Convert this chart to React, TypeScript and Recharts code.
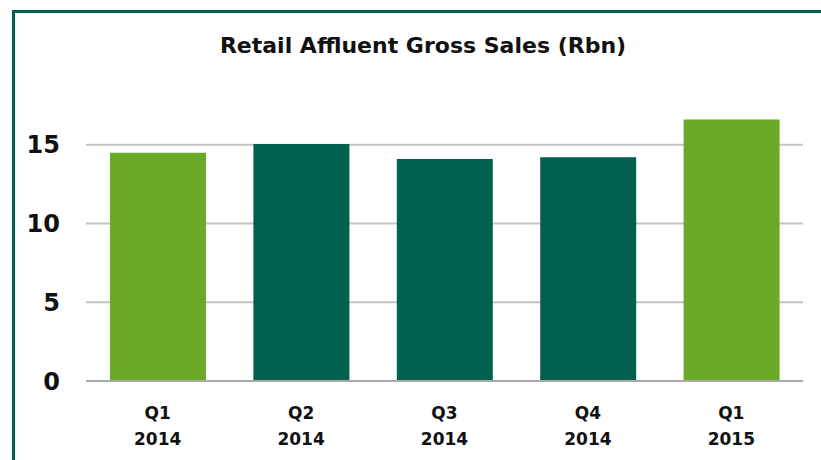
import { BarChart, Bar, XAxis, YAxis, CartesianGrid, Cell } from 'recharts';

const quarters = ['Q1 2014', 'Q2 2014', 'Q3 2014', 'Q4 2014', 'Q1 2015'];
const grossSales = [14.5, 15.05, 14.1, 14.2, 16.6];
const yTicks = [0, 5, 10, 15];

const LIGHT = '#6BAA27';
const DARK = '#00614F';
const FONT = '"DejaVu Sans", sans-serif';

const data = quarters.map((q, i) => ({ name: q, value: grossSales[i] }));

function QuarterTick({ x, y, payload }: any) {
    const [q, yr] = String(payload.value).split(' ');
    return (
        <g transform={`translate(${x},${y})`}>
            <text textAnchor="middle" fontFamily={FONT} fontWeight="bold" fontSize={17} fill="#111">
                <tspan x={0} dy={30}>{q}</tspan>
                <tspan x={0} dy={26}>{yr}</tspan>
            </text>
        </g>
    );
}

export default function App() {
    return (
        <div style={{ position: 'absolute', left: 0, top: 0, width: 821, height: 460, background: '#fff', overflow: 'hidden' }}>
            <div style={{ position: 'absolute', left: 12, top: 10, right: -10, bottom: -10, borderLeft: `3px solid ${DARK}`, borderTop: `3px solid ${DARK}` }} />
            <div style={{ position: 'absolute', left: 0, width: 846, top: 33, textAlign: 'center', fontFamily: FONT, fontWeight: 'bold', fontSize: 22, color: '#111' }}>
                Retail Affluent Gross Sales (Rbn)
            </div>
            <div style={{ position: 'absolute', left: 0, top: 0 }}>
                <BarChart width={821} height={460} data={data} margin={{ top: 66, right: 18, left: 0, bottom: 19 }}>
                    <CartesianGrid vertical={false} horizontalValues={yTicks} stroke="#c3c3c3" strokeWidth={2} />
                    <XAxis dataKey="name" height={60} tickLine={false} axisLine={{ stroke: '#a8a8a8', strokeWidth: 2 }} tick={<QuarterTick />} interval={0} />
                    <YAxis width={86} domain={[0, 20]} ticks={yTicks} tickLine={false} axisLine={false} tickSize={0} tickMargin={26}
                        tick={{ fontFamily: FONT, fontWeight: 'bold', fontSize: 24, fill: '#111' }} />
                    <Bar dataKey="value" barSize={96} isAnimationActive={false}>
                        {data.map((d, i) => (
                            <Cell key={d.name} fill={i === 0 || i === data.length - 1 ? LIGHT : DARK} />
                        ))}
                    </Bar>
                </BarChart>
            </div>
        </div>
    );
}
